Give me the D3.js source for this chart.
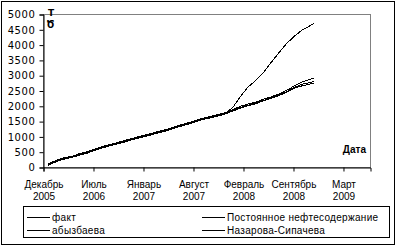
<!DOCTYPE html>
<html>
<head>
<meta charset="utf-8">
<script src="https://cdn.jsdelivr.net/npm/d3@7"></script>
<style>
  body { margin: 0; background: #fff; }
  svg text { font-family: "Liberation Sans", Arial, sans-serif; font-size: 10px; fill: #000; }
</style>
</head>
<body>
<svg class="chart" width="397" height="248"></svg>
<script>
var svg = d3.select("svg.chart"),
    width = 397,
    height = 248;

// месяцы наблюдений (середина месяца)
var dates = ["2006-01-15","2006-02-15","2006-03-15","2006-04-15","2006-05-15","2006-06-15",
  "2006-07-15","2006-08-15","2006-09-15","2006-10-15","2006-11-15","2006-12-15",
  "2007-01-15","2007-02-15","2007-03-15","2007-04-15","2007-05-15","2007-06-15",
  "2007-07-15","2007-08-15","2007-09-15","2007-10-15","2007-11-15","2007-12-15",
  "2008-01-15","2008-02-15","2008-03-15","2008-04-15","2008-05-15","2008-06-15",
  "2008-07-15","2008-08-15","2008-09-15","2008-10-15","2008-11-15","2008-12-01"];

var fakt = [80, 190, 270, 320, 400, 460, 560, 640, 710, 770, 840, 920,
  980, 1040, 1110, 1170, 1250, 1330, 1400, 1480, 1560, 1620, 1680, 1745,
  1940, 2300, 2610, 2820, 3080, 3410, 3720, 4030, 4270, 4470, 4610, 4680];
var postoyannoe = [100, 215, 300, 340, 425, 490, 575, 665, 735, 795, 870, 935,
  1010, 1065, 1140, 1195, 1275, 1355, 1425, 1505, 1585, 1645, 1705, 1770,
  1870, 1985, 2055, 2115, 2210, 2290, 2380, 2500, 2650, 2775, 2860, 2900];
var abyzbaeva = [60, 170, 250, 305, 380, 440, 540, 620, 690, 750, 820, 900,
  960, 1020, 1090, 1150, 1230, 1310, 1380, 1460, 1540, 1600, 1660, 1725,
  1840, 1945, 2015, 2080, 2175, 2255, 2350, 2460, 2600, 2700, 2760, 2790];
var nazarov = [75, 200, 285, 330, 410, 470, 550, 650, 720, 780, 855, 930,
  995, 1050, 1120, 1185, 1260, 1340, 1410, 1490, 1570, 1630, 1690, 1755,
  1820, 1925, 2000, 2065, 2160, 2240, 2330, 2435, 2570, 2650, 2710, 2740];

var seriesNames = ["факт", "Постоянное нефтесодержание", "абызбаева", "Назарова-Сипачева"];
var seriesValues = [fakt, postoyannoe, abyzbaeva, nazarov];

var yTicks = [0, 500, 1000, 1500, 2000, 2500, 3000, 3500, 4000, 4500, 5000];
var xTickDates = ["2005-12-25","2006-07-11","2007-01-25","2007-08-11","2008-02-25","2008-09-10","2009-03-27"];
var xTickMonths = ["Декабрь","Июль","Январь","Август","Февраль","Сентябрь","Март"];
var xTickYears = ["2005","2006","2007","2007","2008","2008","2009"];

var parse = d3.timeParse("%Y-%m-%d");

var plot = { left: 43, right: 370, top: 14, bottom: 167 };

var x = d3.scaleTime()
    .domain([parse("2005-12-25"), parse("2009-07-12")])
    .range([plot.left, plot.right]);
var y = d3.scaleLinear()
    .domain([0, 5000])
    .range([plot.bottom, plot.top]);

// outer frame
svg.append("rect")
    .attr("x", 1.5).attr("y", 1.5)
    .attr("width", 393).attr("height", 243)
    .attr("fill", "none").attr("stroke", "#000");

// plot area border
svg.append("rect")
    .attr("x", plot.left + 0.5).attr("y", plot.top + 0.5)
    .attr("width", plot.right - plot.left).attr("height", plot.bottom - plot.top)
    .attr("fill", "none").attr("stroke", "#808080");

// y axis
var yAxis = svg.append("g")
    .attr("transform", "translate(" + (plot.left + 0.5) + ",0.5)")
    .call(d3.axisLeft(y).tickValues(yTicks).tickSize(4).tickPadding(4).tickFormat(d3.format("d")));
yAxis.select(".domain").attr("stroke", "#000");
yAxis.selectAll("text")
    .style("font-family", "'DejaVu Sans', sans-serif")
    .style("font-size", "10px")
    .style("letter-spacing", "0.6px");

// x axis
var xAxis = svg.append("g")
    .attr("transform", "translate(0.5," + (plot.bottom + 0.5) + ")")
    .call(d3.axisBottom(x).tickValues(xTickDates.map(parse)).tickSize(4).tickFormat(""));
xAxis.select(".domain").attr("stroke", "#000");
xAxis.selectAll(".tick").each(function (d, i) {
    var t = d3.select(this).append("text").attr("text-anchor", "middle");
    t.append("tspan").attr("x", 0).attr("y", 20).text(xTickMonths[i]);
    t.append("tspan").attr("x", 0).attr("y", 32).text(xTickYears[i]);
});

// axis titles
svg.append("text")
    .attr("x", 366).attr("y", 153)
    .attr("text-anchor", "end")
    .style("font-weight", "bold")
    .text("Дата");
// заголовок оси Y (обрезан в оригинале)
svg.append("text")
    .attr("x", 51).attr("y", 16)
    .attr("text-anchor", "middle")
    .style("font-family", "'DejaVu Sans', sans-serif")
    .style("font-size", "9px")
    .style("font-weight", "bold")
    .text("Т");
svg.append("text")
    .attr("x", 50.5).attr("y", 28)
    .attr("text-anchor", "middle")
    .style("font-family", "'DejaVu Sans', sans-serif")
    .style("font-size", "10px")
    .style("font-weight", "bold")
    .text("Ծ");

// lines
var line = d3.line()
    .x((d, i) => x(parse(dates[i])))
    .y((d) => y(d));

svg.append("g")
    .attr("class", "lines")
    .selectAll("path")
    .data(seriesValues)
    .enter().append("path")
    .attr("d", line)
    .attr("fill", "none")
    .attr("stroke", "#000")
    .attr("stroke-width", 1)
    .attr("shape-rendering", "crispEdges");

// legend
svg.append("rect")
    .attr("x", 23.5).attr("y", 206.5)
    .attr("width", 366).attr("height", 31)
    .attr("fill", "none").attr("stroke", "#000");

var legendPos = [[27, 217], [202, 217], [27, 230], [202, 230]];
var legend = svg.append("g")
    .selectAll("g")
    .data(seriesNames)
    .enter().append("g")
    .attr("transform", (d, i) => "translate(" + legendPos[i][0] + "," + legendPos[i][1] + ")");
legend.append("line")
    .attr("x1", 0).attr("x2", 23)
    .attr("y1", 0.5).attr("y2", 0.5)
    .attr("stroke", "#000");
legend.append("text")
    .attr("x", 25).attr("y", 4)
    .style("letter-spacing", "0.3px")
    .text((d) => d);
</script>
</body>
</html>
